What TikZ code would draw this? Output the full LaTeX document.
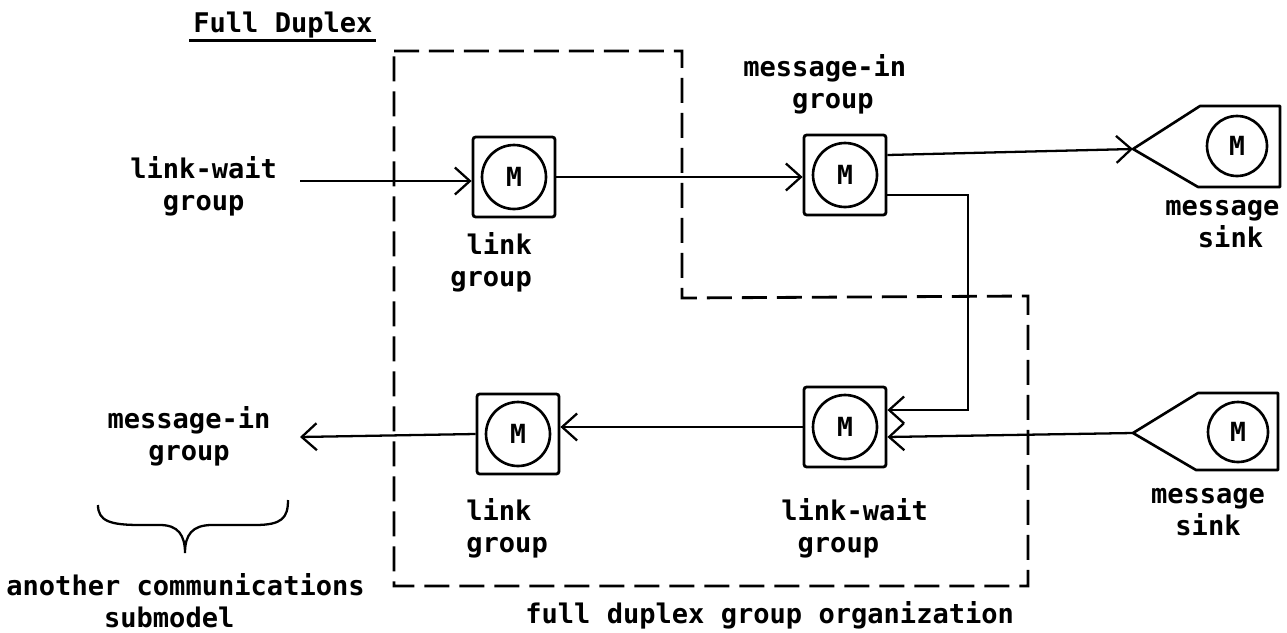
\documentclass[tikz,border=0pt]{standalone}
\usepackage{fontspec}
\newfontfamily\tw{DejaVu Sans Mono}
\usetikzlibrary{arrows.meta}
\begin{document}
\begin{tikzpicture}[x=0.02cm,y=-0.02cm,
  lbl/.style={font=\tw\bfseries\fontsize{15.4pt}{18.4pt}\selectfont, inner sep=0pt, align=left},
  mbox/.style={draw, line width=1.6pt, minimum width=1.64cm, minimum height=1.6cm, rounded corners=1.5pt, inner sep=0pt},
  mcirc/.style={draw, circle, line width=1.5pt, minimum size=1.28cm, inner sep=0pt, font=\tw\bfseries\fontsize{15pt}{17pt}\selectfont},
  scirc/.style={mcirc, minimum size=1.2cm},
  conn/.style={line width=1.3pt},
  arr/.style={conn, -{Straight Barb[length=0.3cm,width=0.54cm,line width=1.3pt]}},
  bound/.style={line width=1.6pt, dash pattern=on 0.5cm off 0.2cm},
  sinkshape/.style={line width=1.5pt, line join=round}]
\useasboundingbox (0,0) rectangle (1287,632);

% title
\node[lbl, anchor=base west] (title) at (193,32) {Full Duplex};
\draw[conn] ([yshift=-0.17cm,xshift=-2pt]title.base west) -- ([yshift=-0.17cm,xshift=2pt]title.base east);

% dashed boundary
\draw[bound] (394,51) -- (682,51) -- (682,298) -- (1028,296) -- (1028,586) -- (394,586) -- cycle;

% M boxes
\node[mbox] (lg1) at (514,177) {};
\node[mcirc] (lg1c) at (lg1) {M};
\node[mbox] (mi) at (845,175) {};
\node[mcirc] (mic) at (mi) {M};
\node[mbox] (lw) at (845,427) {};
\node[mcirc] (lwc) at (lw) {M};
\node[mbox] (lg2) at (518,434) {};
\node[mcirc] (lg2c) at (lg2) {M};

% message sinks
\coordinate (s1) at (1133,149);
\draw[sinkshape] (s1) -- (1200,106) -- (1280,106) -- (1280,187) -- (1198,187) -- cycle;
\node[scirc] (s1c) at (1237,146) {M};
\coordinate (s2) at (1133,433);
\draw[sinkshape] (s2) -- (1198,393) -- (1278,393) -- (1278,470) -- (1196,470) -- cycle;
\node[scirc] (s2c) at (1238,432) {M};

% connectors
\coordinate (lwin) at (300,181);
\draw[arr] (lwin) -- (lwin -| lg1.west);
\draw[arr] (lg1.east) -- (lg1.east -| mi.west);
\draw[arr] ([yshift=0.4cm]mi.east) -- (s1);
\coordinate (bend) at (968,0);
\draw[arr] ([yshift=-0.4cm]mi.east) -- ([yshift=-0.4cm]mi.east -| bend) -- ([yshift=0.34cm]lw.east -| bend) -- ([yshift=0.34cm]lw.east);
\draw[arr] (s2) -- ([yshift=-0.2cm]lw.east);
\draw[arr] (lw.west) -- (lw.west -| lg2.east);
\coordinate (miout) at (300,437);
\draw[arr] (lg2.west) -- (miout);

% labels
\node[lbl, anchor=west] (t1) at (130,186) {link-wait\\\hphantom{xx}group};
\node[lbl, anchor=west] (t2) at (450,262) {\hphantom{x}link\\group};
\node[lbl, anchor=west] (t3) at (743,84) {message-in\\\hphantom{xxx}group};
\node[lbl, anchor=west] (t4) at (1165,224) {message\\\hphantom{xx}sink};
\node[lbl, align=center] (t5) at (1208,512) {message\\sink};
\node[lbl, anchor=west] (t6) at (781,528) {link-wait\\\hphantom{x}group};
\node[lbl, anchor=west] (t7) at (466,528) {link\\group};
\node[lbl, align=center] (t8) at (189,436) {message-in\\group};
\node[lbl, anchor=west] (t9) at (6,601) {another communications\\\hphantom{xxxxxx}submodel};
\node[lbl, anchor=base west] (t10) at (525,623) {full duplex group organization};

% brace
\draw[conn] (98,505) .. controls (98,521) and (110,525) .. (140,525) -- (160,525)
  .. controls (178,525) and (185,535) .. (185,553)
  .. controls (185,535) and (192,525) .. (212,525) -- (255,525)
  .. controls (282,525) and (288,518) .. (288,500);
\end{tikzpicture}
\end{document}
